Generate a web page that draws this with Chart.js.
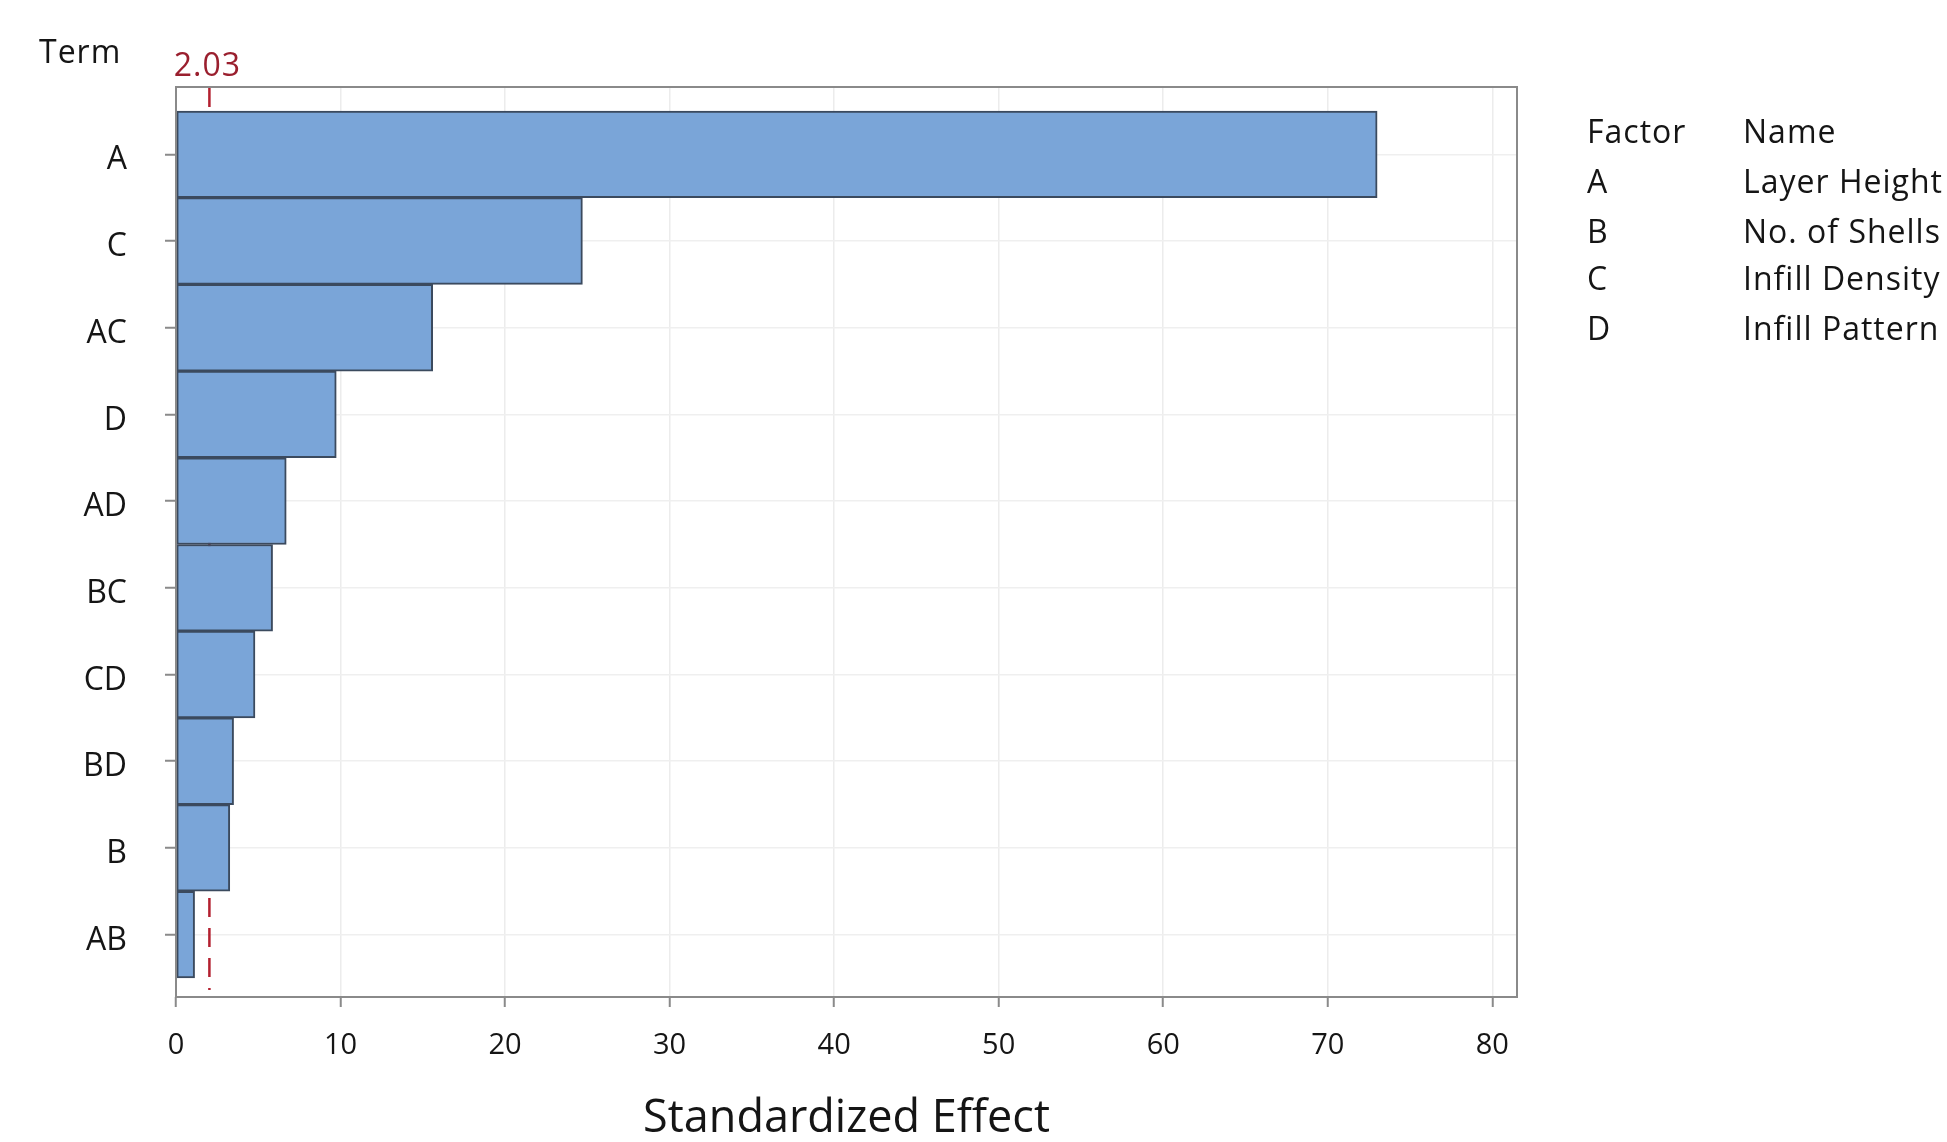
<!DOCTYPE html>
<html>
<head>
<meta charset="utf-8">
<script src="https://cdn.jsdelivr.net/npm/chart.js@4/dist/chart.umd.min.js"></script>
<style>
  html, body { margin: 0; padding: 0; background: #ffffff; }
  #wrap { width: 1947px; height: 1142px; position: relative; }
</style>
</head>
<body>
<div id="wrap"><canvas id="pareto" width="1947" height="1142"></canvas></div>
<script>
// Pareto chart of the standardized effects
const terms = ['A', 'C', 'AC', 'D', 'AD', 'BC', 'CD', 'BD', 'B', 'AB'];
const effects = [73.0, 24.7, 15.6, 9.74, 6.7, 5.87, 4.8, 3.5, 3.27, 1.13];
const xTicks = [0, 10, 20, 30, 40, 50, 60, 70, 80];
const criticalValue = 2.03;
const factorCodes = ['A', 'B', 'C', 'D'];
const factorNames = ['Layer Height', 'No. of Shells', 'Infill Density', 'Infill Pattern'];

const FONT = "'Open Sans', 'Noto Sans', sans-serif";
const TEXT = '#151515';

const barPoints = terms.map((t, i) => ({ x: effects[i], y: i }));

// Frame around the plot, dashed reference line, its label, "Term" header and factor table
const decorations = {
  id: 'decorations',
  beforeDatasetsDraw(chart) {
    const { ctx, chartArea, scales } = chart;
    const x = scales.x.getPixelForValue(criticalValue);
    ctx.save();
    ctx.strokeStyle = '#b3202f';
    ctx.lineWidth = 2.5;
    ctx.setLineDash([19, 11]);
    ctx.beginPath();
    ctx.moveTo(x, chartArea.top + 1);
    ctx.lineTo(x, chartArea.bottom - 7);
    ctx.stroke();
    ctx.restore();
  },
  afterDraw(chart) {
    const { ctx, chartArea, scales } = chart;
    ctx.save();
    // frame
    ctx.strokeStyle = '#8a8a8a';
    ctx.lineWidth = 2;
    ctx.strokeRect(chartArea.left, chartArea.top, chartArea.right - chartArea.left, chartArea.bottom - chartArea.top);

    // reference value label
    const x = scales.x.getPixelForValue(criticalValue);
    ctx.fillStyle = '#9a1f2e';
    ctx.font = '32px ' + FONT;
    ctx.letterSpacing = '1px';
    ctx.textAlign = 'center';
    ctx.textBaseline = 'middle';
    ctx.fillText(criticalValue.toFixed(2), x - 2, 67);

    // axis header
    ctx.fillStyle = TEXT;
    ctx.textAlign = 'left';
    ctx.font = '32px ' + FONT;
    ctx.fillText('Term', 39, 54);

    // factor table
    const colA = 1587, colB = 1743;
    const rows = [134, 184, 234, 281, 331];
    ctx.font = '32px ' + FONT;
    ctx.fillText('Factor', colA, rows[0]);
    ctx.fillText('Name', colB, rows[0]);
    factorCodes.forEach((c, i) => {
      ctx.fillText(c, colA, rows[i + 1]);
      ctx.fillText(factorNames[i], colB, rows[i + 1]);
    });
    ctx.restore();
  }
};

new Chart(document.getElementById('pareto'), {
  type: 'bar',
  data: {
    datasets: [{
      data: barPoints,
      backgroundColor: '#7aa5d8',
      borderColor: '#3b4a5e',
      borderWidth: 2,
      borderSkipped: false,
      barPercentage: 1,
      categoryPercentage: 1
    }]
  },
  plugins: [decorations],
  options: {
    indexAxis: 'y',
    responsive: false,
    animation: false,
    devicePixelRatio: 1,
    layout: { padding: { left: 0, top: 87, right: 430, bottom: 0 } },
    plugins: {
      legend: { display: false },
      tooltip: { enabled: false }
    },
    scales: {
      x: {
        type: 'linear',
        position: 'bottom',
        min: 0,
        max: 81.5,
        afterBuildTicks(scale) { scale.ticks = xTicks.map(v => ({ value: v })); },
        afterFit(scale) { scale.height = 145; },
        grid: {
          color: '#ececec',
          lineWidth: 1.5,
          tickColor: '#8a8a8a',
          tickLength: 10,
          tickWidth: 2
        },
        border: { display: false },
        ticks: {
          color: TEXT,
          font: { family: FONT, size: 29 },
          padding: 21,
          maxRotation: 0
        },
        title: {
          display: true,
          text: 'Standardized Effect',
          color: TEXT,
          font: { family: FONT, size: 45, lineHeight: 1 },
          padding: { top: 0, bottom: 0 }
        }
      },
      y: {
        type: 'linear',
        reverse: true,
        offset: false,
        min: -0.777,
        max: 9.72,
        afterBuildTicks(scale) { scale.ticks = terms.map((t, i) => ({ value: i })); },
        afterFit(scale) { scale.width = 176; },
        grid: {
          offset: false,
          color: '#efefef',
          lineWidth: 1.5,
          tickColor: '#8a8a8a',
          tickLength: 11,
          tickWidth: 2
        },
        border: { display: false },
        ticks: {
          color: TEXT,
          font: { family: FONT, size: 32 },
          padding: 38,
          labelOffset: 6,
          callback: (v) => terms[v]
        }
      }
    }
  }
});
</script>
</body>
</html>
